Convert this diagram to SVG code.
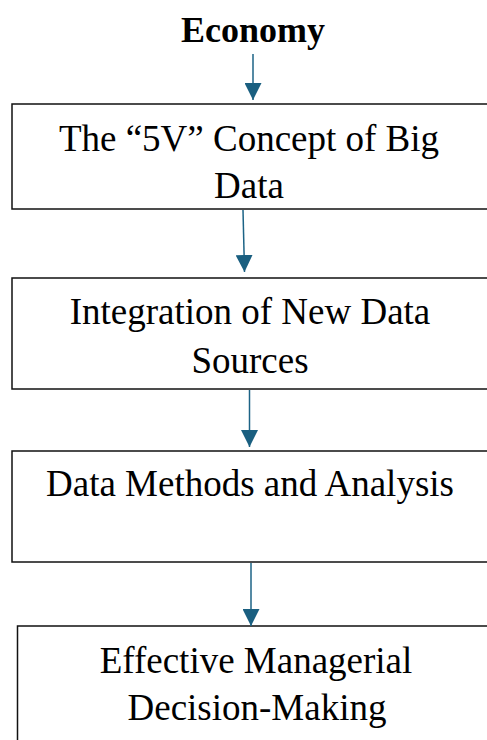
<svg xmlns="http://www.w3.org/2000/svg" width="487" height="740" viewBox="0 0 487 740">
<style>
.box{fill:#fff;stroke:#111;stroke-width:1.5}
.t{font-family:"Liberation Serif","Times New Roman",serif;font-size:37px;fill:#000;text-anchor:middle}
.title{font-weight:bold;font-size:36px}
.conn{stroke:#1c6386;stroke-width:1.5;fill:none}
</style>
<defs>
<marker id="ah" markerUnits="userSpaceOnUse" markerWidth="17" markerHeight="17" refX="16" refY="8" orient="auto" viewBox="0 0 16 16">
<path d="M0,0 L16,8 L0,16 Z" fill="#1a5f80"/>
</marker>
</defs>
<rect width="487" height="740" fill="#fff"/>
<g id="economy"><text class="t title" x="253" y="42">Economy</text></g>
<g id="node1">
<rect class="box" x="12" y="104" width="490" height="105"/>
<text class="t" x="249" y="151">The “5V” Concept of Big</text>
<text class="t" x="249" y="198">Data</text>
</g>
<g id="node2">
<rect class="box" x="12" y="278" width="490" height="111"/>
<text class="t" x="250" y="324">Integration of New Data</text>
<text class="t" x="250" y="373">Sources</text>
</g>
<g id="node3">
<rect class="box" x="12" y="451" width="490" height="111"/>
<text class="t" x="250" y="496">Data Methods and Analysis</text>
</g>
<g id="node4">
<rect class="box" x="17.5" y="626" width="490" height="130"/>
<text class="t" x="256" y="673">Effective Managerial</text>
<text class="t" x="257" y="720">Decision-Making</text>
</g>
<g id="connectors">
<line class="conn" x1="253" y1="54" x2="253" y2="100" marker-end="url(#ah)"/>
<line class="conn" x1="243" y1="210" x2="244.5" y2="272" marker-end="url(#ah)"/>
<line class="conn" x1="249.5" y1="390" x2="249.5" y2="447" marker-end="url(#ah)"/>
<line class="conn" x1="251" y1="563" x2="251" y2="626" marker-end="url(#ah)"/>
</g>
</svg>
